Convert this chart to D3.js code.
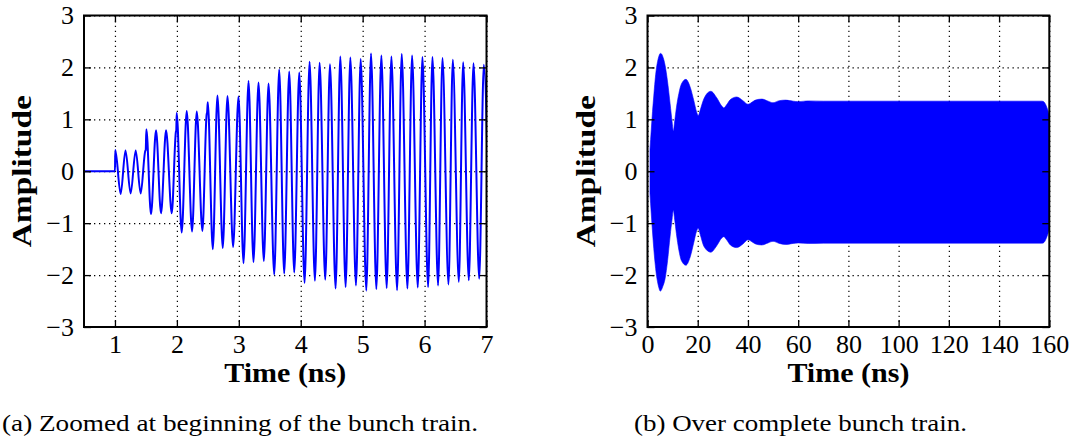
<!DOCTYPE html>
<html>
<head>
<meta charset="utf-8">
<script src="https://cdn.jsdelivr.net/npm/d3@7"></script>
<style>
  body { margin: 0; background: #fff; }
  text { font-family: "Liberation Serif", "DejaVu Serif", serif; fill: #000; }
  .grid line { stroke: #000; stroke-width: 1.2; stroke-dasharray: 1.3 3.7; }
  .grid path { display: none; }
  .ticks line { stroke: #000; stroke-width: 1.3; }
  .ticks path { display: none; }
</style>
</head>
<body>
<div id="chart"></div>
<script>
// ---------- data ----------

// (a) zoomed view: local maxima / minima of the signal
const zoomPeakT = [1.005, 1.170, 1.335, 1.507, 1.663, 1.825, 1.997, 2.159, 2.321, 2.499, 2.655, 2.817, 2.995,
    3.157, 3.318, 3.480, 3.652, 3.814, 3.976, 4.143, 4.305, 4.472, 4.639, 4.801, 4.968,
    5.135, 5.302, 5.464, 5.631, 5.798, 5.965, 6.127, 6.289, 6.456, 6.623, 6.790, 6.957]
const zoomPeakV = [0.41, 0.40, 0.40, 0.81, 0.79, 0.79, 1.12, 1.16, 1.15, 1.33, 1.46, 1.45, 1.44,
    1.74, 1.71, 1.69, 1.96, 1.92, 1.90, 2.11, 2.09, 2.06, 2.21, 2.19, 2.16,
    2.27, 2.23, 2.21, 2.26, 2.23, 2.20, 2.20, 2.18, 2.15, 2.10, 2.08, 2.05]
const zoomTroughT = [1.092, 1.253, 1.415, 1.582, 1.744, 1.917, 2.078, 2.245, 2.412, 2.580, 2.741, 2.908,
    3.076, 3.237, 3.404, 3.572, 3.733, 3.895, 4.062, 4.229, 4.396, 4.563, 4.725, 4.892,
    5.059, 5.221, 5.388, 5.556, 5.723, 5.890, 6.057, 6.218, 6.386, 6.553, 6.714, 6.882, 7.049]
const zoomTroughV = [-0.44, -0.43, -0.43, -0.83, -0.81, -0.81, -1.18, -1.16, -1.15, -1.50, -1.48, -1.46,
    -1.77, -1.75, -1.73, -1.99, -1.97, -1.95, -2.15, -2.11, -2.09, -2.26, -2.23, -2.20,
    -2.30, -2.27, -2.25, -2.29, -2.26, -2.24, -2.23, -2.20, -2.18, -2.13, -2.10, -2.07, -2.04]
// flat signal before the first bunch and small shoulders where new bunches arrive
const zoomExtraT = [0.5, 1.0, 1.489, 1.497, 1.984, 1.990, 2.481, 2.488]
const zoomExtraV = [0, 0, 0.39, 0.41, 0.76, 0.79, 1.10, 1.13]

// (b) full train: upper and lower envelope of the filled signal
const fullT = [1, 1.5, 2, 2.5, 3, 3.5, 4, 4.5, 5.1, 5.6, 6, 7, 8, 9, 9.8, 10.3, 10.8, 11.5, 12.5, 13.5, 15.3,
    17, 18.5, 19.5, 20.2, 21, 22.5, 25.2, 27.5, 29.5, 30.4, 31.5, 33, 35.5, 38, 40, 41, 43, 45.5,
    48, 50, 52.5, 55, 58, 60, 64, 70, 157, 157.6, 160]
const fullUpper = [0.42, 0.80, 1.15, 1.45, 1.74, 1.96, 2.11, 2.21, 2.27, 2.26, 2.22, 2.04, 1.72, 1.30, 0.95, 0.77, 0.95, 1.22, 1.50, 1.68, 1.77,
    1.62, 1.35, 1.15, 1.07, 1.18, 1.40, 1.54, 1.42, 1.26, 1.22, 1.28, 1.38, 1.43, 1.36, 1.29, 1.31, 1.37, 1.39,
    1.35, 1.32, 1.36, 1.37, 1.35, 1.34, 1.355, 1.35, 1.35, 1.345, 1.09]
const fullLower = [-0.43, -0.82, -1.17, -1.49, -1.76, -1.98, -2.13, -2.24, -2.31, -2.28, -2.23, -2.07, -1.72, -1.25, -0.92, -0.75, -0.92, -1.20, -1.52, -1.72, -1.81,
    -1.65, -1.36, -1.16, -1.10, -1.22, -1.45, -1.56, -1.44, -1.29, -1.26, -1.32, -1.42, -1.47, -1.40, -1.32, -1.34, -1.40, -1.42,
    -1.38, -1.35, -1.39, -1.41, -1.39, -1.38, -1.39, -1.385, -1.385, -1.38, -1.12]

const yTicks = [-3, -2, -1, 0, 1, 2, 3]
const zoomXTicks = [1, 2, 3, 4, 5, 6, 7]
const fullXTicks = [0, 20, 40, 60, 80, 100, 120, 140, 160]

const captionA = '(a) Zoomed at beginning of the bunch train.'
const captionB = '(b) Over complete bunch train.'

// ---------- layout ----------
const W = 1075, H = 437
const plotTop = 15.5, plotBottom = 327
const panels = [
    { id: 'a', left: 84, right: 486.5, domain: [0.5, 7], ticks: zoomXTicks, caption: captionA, capX: 2, capW: 476 },
    { id: 'b', left: 647.5, right: 1049.3, domain: [0, 160], ticks: fullXTicks, caption: captionB, capX: 634, capW: 333 }
]

const svg = d3.select('#chart')
    .append('svg')
    .attr('width', W)
    .attr('height', H)

const fmt = d => d < 0 ? '\u2212' + Math.abs(d) : String(d)

panels.forEach(p => {
    const width = p.right - p.left
    const height = plotBottom - plotTop

    const g = svg.append('g')
        .attr('transform', `translate(${p.left},${plotTop})`)

    const x = d3.scaleLinear().domain(p.domain).range([0, width])
    const y = d3.scaleLinear().domain([-3, 3]).range([height, 0])
    p.x = x; p.y = y; p.g = g

    // dotted grid
    g.append('g')
        .attr('class', 'grid')
        .attr('transform', `translate(0,${height})`)
        .call(d3.axisBottom(x).tickValues(p.ticks).tickSize(-height).tickFormat(''))
    g.append('g')
        .attr('class', 'grid')
        .call(d3.axisLeft(y).tickValues(yTicks).tickSize(-width).tickFormat(''))

    g.append('clipPath')
        .attr('id', 'clip-' + p.id)
        .append('rect')
        .attr('width', width)
        .attr('height', height)

    p.plot = g.append('g').attr('clip-path', `url(#clip-${p.id})`)
})

// ---------- (a) line ----------
const pa = panels[0]
let zoomPts = []
zoomPeakT.forEach((t, i) => zoomPts.push([t, zoomPeakV[i]]))
zoomTroughT.forEach((t, i) => zoomPts.push([t, zoomTroughV[i]]))
zoomExtraT.forEach((t, i) => zoomPts.push([t, zoomExtraV[i]]))
zoomPts.sort((a, b) => a[0] - b[0])

pa.plot.append('path')
    .datum(zoomPts)
    .attr('fill', 'none')
    .attr('stroke', '#0000ff')
    .attr('stroke-width', 2)
    .attr('stroke-linejoin', 'round')
    .attr('d', d3.line()
        .x(d => pa.x(d[0]))
        .y(d => pa.y(d[1]))
        .curve(d3.curveMonotoneX))

// ---------- (b) filled envelope ----------
const pb = panels[1]
const fullPts = fullT.map((t, i) => ({ t: t, hi: fullUpper[i], lo: fullLower[i] }))

pb.plot.append('path')
    .datum(fullPts)
    .attr('fill', '#0000ff')
    .attr('stroke', '#0000ff')
    .attr('stroke-width', 0.6)
    .attr('d', d3.area()
        .x(d => pb.x(d.t))
        .y0(d => pb.y(d.lo))
        .y1(d => pb.y(d.hi))
        .curve(d3.curveMonotoneX))

// ---------- axes, frame, labels ----------
panels.forEach(p => {
    const width = p.right - p.left
    const height = plotBottom - plotTop
    const g = p.g

    // inward ticks on all four sides
    g.append('g').attr('class', 'ticks')
        .attr('transform', `translate(0,${height})`)
        .call(d3.axisBottom(p.x).tickValues(p.ticks).tickSizeInner(-7).tickSizeOuter(0).tickPadding(8).tickFormat(fmt))
        .call(a => a.selectAll('text').attr('font-size', 26).attr('font-family', null))
    g.append('g').attr('class', 'ticks')
        .call(d3.axisTop(p.x).tickValues(p.ticks).tickSizeInner(-7).tickSizeOuter(0).tickFormat(''))
    g.append('g').attr('class', 'ticks')
        .call(d3.axisLeft(p.y).tickValues(yTicks).tickSizeInner(-7).tickSizeOuter(0).tickPadding(10).tickFormat(fmt))
        .call(a => a.selectAll('text').attr('font-size', 26).attr('font-family', null))
    g.append('g').attr('class', 'ticks')
        .attr('transform', `translate(${width},0)`)
        .call(d3.axisRight(p.y).tickValues(yTicks).tickSizeInner(-7).tickSizeOuter(0).tickFormat(''))

    g.append('rect')
        .attr('width', width)
        .attr('height', height)
        .attr('fill', 'none')
        .attr('stroke', '#000')
        .attr('stroke-width', 2)

    g.append('text')
        .text('Time (ns)')
        .attr('x', width / 2)
        .attr('y', 381.5 - plotTop)
        .attr('text-anchor', 'middle')
        .attr('font-size', 27)
        .attr('font-weight', 'bold')
        .attr('textLength', 122)
        .attr('lengthAdjust', 'spacingAndGlyphs')

    g.append('text')
        .text('Amplitude')
        .attr('text-anchor', 'middle')
        .attr('font-size', 28)
        .attr('font-weight', 'bold')
        .attr('textLength', 152)
        .attr('lengthAdjust', 'spacingAndGlyphs')
        .attr('transform', `translate(${-53},${height / 2}) rotate(-90)`)

    svg.append('text')
        .text(p.caption)
        .attr('x', p.capX)
        .attr('y', 430.5)
        .attr('font-size', 23)
        .attr('textLength', p.capW)
        .attr('lengthAdjust', 'spacingAndGlyphs')
})
</script>
</body>
</html>
